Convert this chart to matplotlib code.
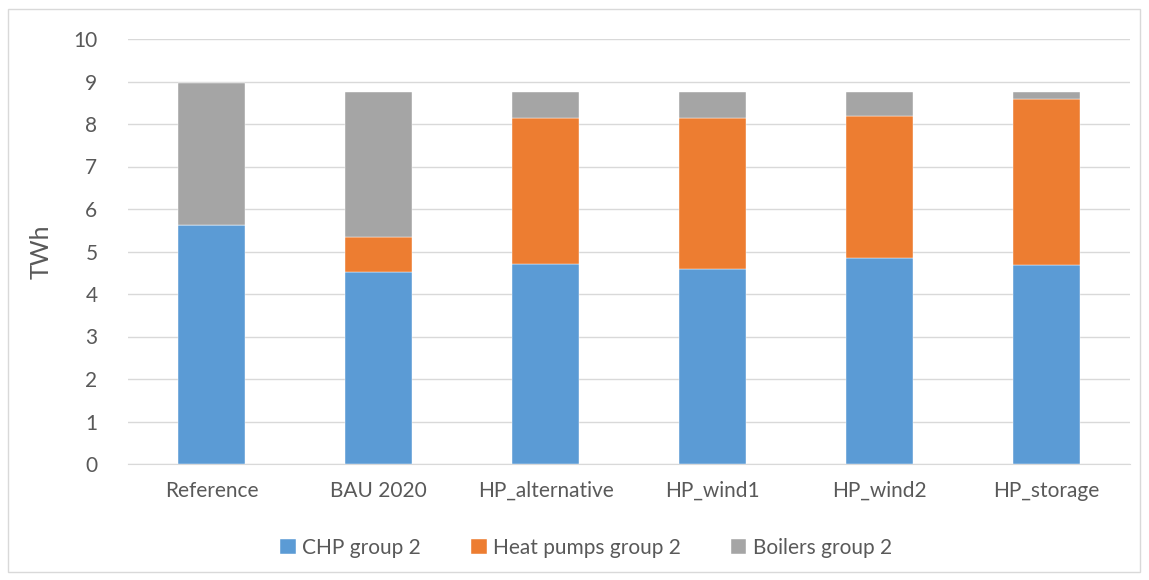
import matplotlib
matplotlib.use('Agg')
import matplotlib.pyplot as plt
import numpy as np
from matplotlib.patches import Rectangle

# data
scenarios = ['Reference', 'BAU 2020', 'HP_alternative', 'HP_wind1', 'HP_wind2', 'HP_storage']
chp = [5.62, 4.51, 4.70, 4.60, 4.84, 4.68]
heat_pumps = [0.0, 0.82, 3.45, 3.53, 3.35, 3.90]
boilers = [3.34, 3.43, 0.61, 0.63, 0.56, 0.17]
series_names = ['CHP group 2', 'Heat pumps group 2', 'Boilers group 2']
colors = ['#5b9bd5', '#ed7d31', '#a5a5a5']

plt.rcParams['font.family'] = ['Lato', 'DejaVu Sans']
txt = '#595959'

fig = plt.figure(figsize=(11.49, 5.80), dpi=100)
ax = fig.add_axes([128/1149, 1 - 464/580, (1130-128)/1149, (464-39)/580])

x = np.arange(len(scenarios))
bottom = np.zeros(len(scenarios))
for vals, name, c in zip([chp, heat_pumps, boilers], series_names, colors):
    ax.bar(x, vals, 0.4, bottom=bottom, color=c, label=name,
           edgecolor='white', linewidth=0.3, zorder=3)
    bottom = bottom + np.array(vals)

ax.set_xlim(-0.5, len(scenarios) - 0.5)
ax.set_ylim(0, 10)
ax.set_yticks(range(0, 11))
ax.set_xticks(x)
ax.set_xticklabels(scenarios)
ax.grid(axis='y', color='#d9d9d9', linewidth=1, zorder=0)
for s in ['top', 'right', 'left']:
    ax.spines[s].set_visible(False)
ax.spines['bottom'].set_color('#d9d9d9')
ax.tick_params(axis='both', length=0, colors=txt, labelsize=15)
ax.tick_params(axis='x', pad=12)
ax.tick_params(axis='y', pad=22)
ax.set_ylabel('TWh', color=txt, fontsize=18, labelpad=15)

ax.legend(loc='center', bbox_to_anchor=(586/1149, 1 - 548/580),
          bbox_transform=fig.transFigure, ncol=3, frameon=False,
          fontsize=15, labelcolor=txt, handlelength=0.75, handleheight=0.75,
          handletextpad=0.3, columnspacing=2.4)

fig.patches.append(Rectangle((8/1149, 8/580), 1 - 17/1149, 1 - 17/580,
                             transform=fig.transFigure, fill=False,
                             edgecolor='#d9d9d9', linewidth=1))

fig.savefig('out.png', dpi=100)
